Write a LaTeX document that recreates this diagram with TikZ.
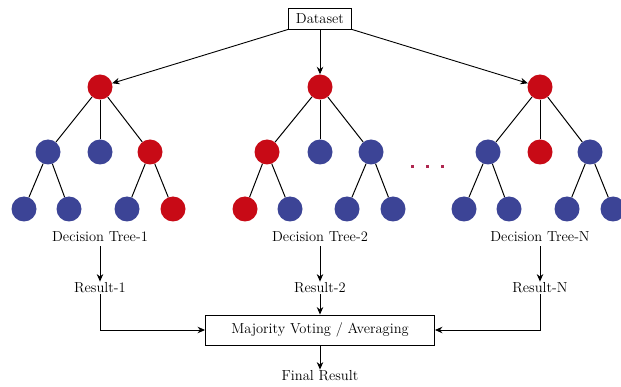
\documentclass[tikz,border=0pt]{standalone}
\usetikzlibrary{arrows.meta}
\definecolor{nred}{RGB}{200,10,22}
\definecolor{nblue}{RGB}{60,68,150}
\definecolor{dotc}{RGB}{175,40,80}
\begin{document}
\begin{tikzpicture}[x=1pt,y=-1pt,
  rn/.style={circle,fill=nred,minimum size=25pt,inner sep=0pt},
  bn/.style={circle,fill=nblue,minimum size=25pt,inner sep=0pt},
  lbl/.style={font=\fontsize{14.5}{16}\selectfont,inner sep=1pt},
  boxn/.style={draw,line width=0.9pt,font=\fontsize{14.5}{16}\selectfont},
  edge/.style={line width=1pt},
  arr/.style={line width=0.9pt,-{Stealth[length=7.5pt,width=6.5pt]}}]
\useasboundingbox (0,0) rectangle (621,387);
% trees
\node[rn] (a) at (100,87) {};
\node[bn] (a1) at (48,152) {};
\node[bn] (a2) at (100,152) {};
\node[rn] (a3) at (150,152) {};
\node[bn] (a11) at (24,209) {};
\node[bn] (a12) at (69,209) {};
\node[bn] (a31) at (127,209) {};
\node[rn] (a32) at (173,209) {};
\node[rn] (b) at (320,87) {};
\node[rn] (b1) at (267,152) {};
\node[bn] (b2) at (320,152) {};
\node[bn] (b3) at (371,152) {};
\node[rn] (b11) at (245,209) {};
\node[bn] (b12) at (290,209) {};
\node[bn] (b31) at (347,209) {};
\node[bn] (b32) at (393,209) {};
\node[rn] (c) at (540,87) {};
\node[bn] (c1) at (488,152) {};
\node[rn] (c2) at (540,152) {};
\node[bn] (c3) at (590,152) {};
\node[bn] (c11) at (464,209) {};
\node[bn] (c12) at (509,209) {};
\node[bn] (c31) at (567,209) {};
\node[bn] (c32) at (613,209) {};
\foreach \p/\q in {a/a1,a/a2,a/a3,a1/a11,a1/a12,a3/a31,a3/a32,
                   b/b1,b/b2,b/b3,b1/b11,b1/b12,b3/b31,b3/b32,
                   c/c1,c/c2,c/c3,c1/c11,c1/c12,c3/c31,c3/c32}
  \draw[edge] (\p) -- (\q);
% dots
\foreach \x in {412,427,442}
  \fill[dotc] (\x-1.5,165.5) rectangle (\x+1.5,168.5);
% dataset
\node[boxn,minimum width=63pt,minimum height=21pt,inner sep=1pt] (ds) at (320,18.5) {Dataset};
\draw[arr] (ds.south west) -- (a);
\draw[arr] (ds.south) -- (b);
\draw[arr] (ds.south east) -- (c);
% labels
\node[lbl] (t1) at (100,237) {Decision Tree-1};
\node[lbl] (t2) at (320,237) {Decision Tree-2};
\node[lbl] (t3) at (540,237) {Decision Tree-N};
\node[lbl] (r1) at (100,288) {Result-1};
\node[lbl] (r2) at (320,288) {Result-2};
\node[lbl] (r3) at (540,288) {Result-N};
\draw[arr] ([yshift=-3pt]t1.south) -- (r1);
\draw[arr] ([yshift=-3pt]t2.south) -- (r2);
\draw[arr] ([yshift=-3pt]t3.south) -- (r3);
\node[boxn,minimum width=229pt,minimum height=30pt] (mv) at (320,330) {Majority Voting / Averaging};
\draw[arr] (r2) -- (mv);
\draw[arr] (r1.south) |- (mv.west);
\draw[arr] (r3.south) |- (mv.east);
\node[lbl] (fr) at (320,376) {Final Result};
\draw[arr] (mv) -- (fr);
\end{tikzpicture}
\end{document}
